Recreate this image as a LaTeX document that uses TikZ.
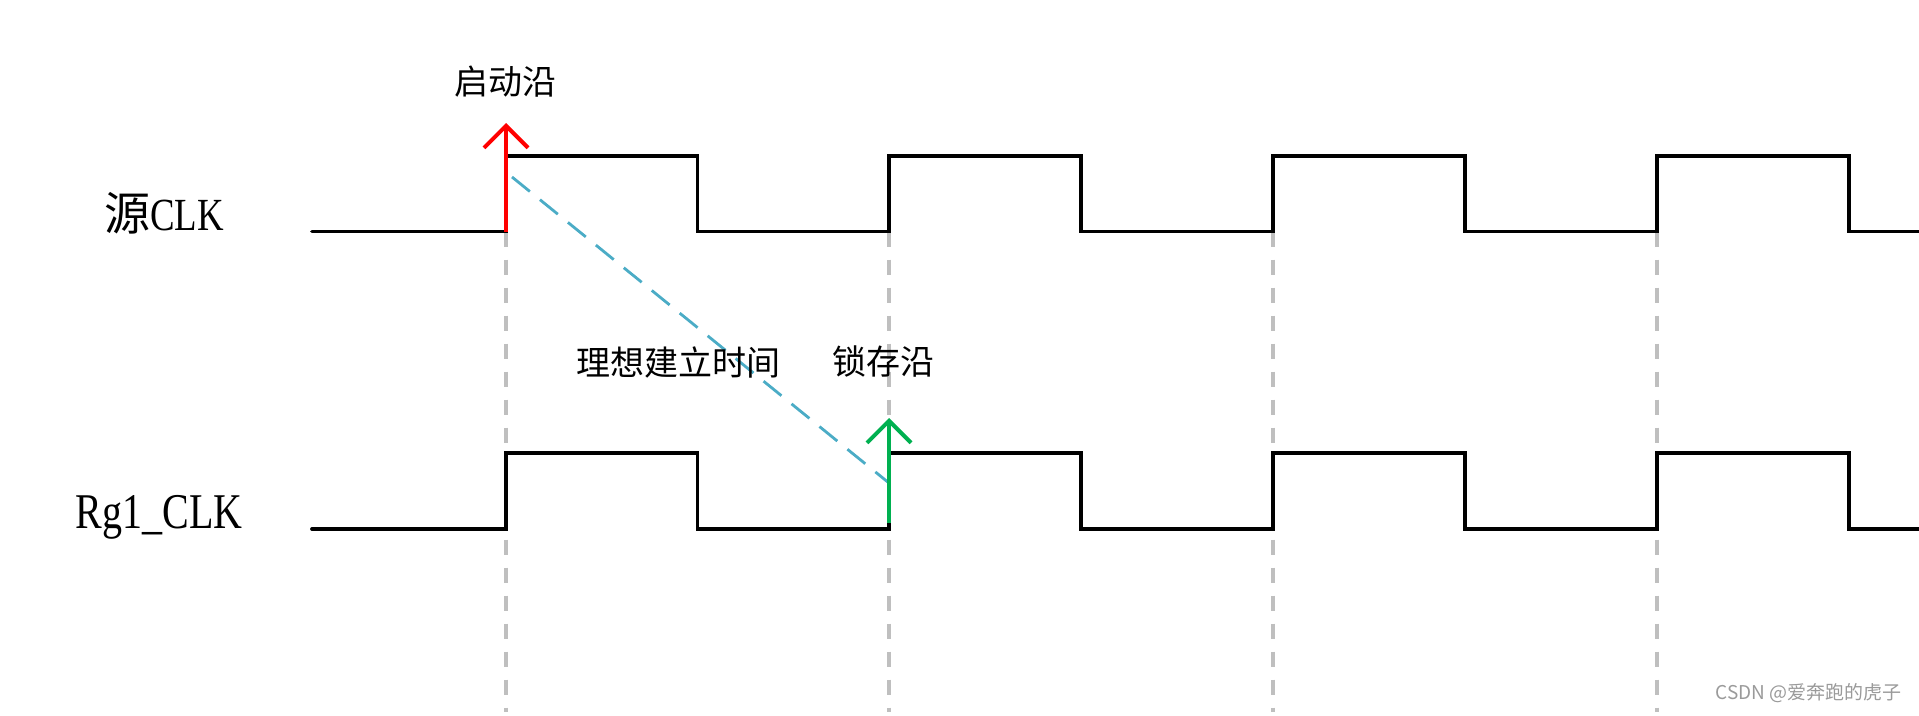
\documentclass[tikz,border=0pt]{standalone}
\usepackage{fontspec}
\setmainfont{Liberation Serif}
\newfontfamily\cjk{Noto Sans CJK SC}
\usetikzlibrary{arrows.meta}
\definecolor{edgered}{HTML}{FF0000}
\definecolor{edgegreen}{HTML}{00B050}
\definecolor{setupblue}{HTML}{4BACC6}
\definecolor{guidegray}{HTML}{BFBFBF}
\definecolor{markgray}{HTML}{9A9A9A}
\newcommand{\lat}[1]{\scalebox{0.8}[1]{#1}}
\tikzset{
  wave/.style={line width=3.8pt, black, line join=miter, line cap=round},
  guide/.style={line width=3.6pt, guidegray, dash pattern=on 15pt off 13pt},
  setup/.style={line width=2.8pt, setupblue, dash pattern=on 23pt off 13pt},
  edgearrow/.style={line width=4pt, -{Straight Barb[length=22pt,width=44pt,line width=4pt]}},
  siglabel/.style={font=\fontsize{46}{46}\selectfont, inner sep=0pt, anchor=center},
  cnlabel/.style={font=\cjk\fontsize{34}{34}\selectfont, inner sep=0pt, anchor=center},
}
\begin{document}
\begin{tikzpicture}[x=1pt,y=-1pt]
\useasboundingbox (0,0) rectangle (1919,715);
% guide lines
\foreach \xx in {506,889,1273,1657}{
  \draw[guide] (\xx,231.5) -- (\xx,712);
}
% source clock
\draw[wave] (312,231.5) -- (506,231.5) -- (506,156) -- (697.5,156) -- (697.5,231.5)
  -- (889,231.5) -- (889,156) -- (1081,156) -- (1081,231.5)
  -- (1273,231.5) -- (1273,156) -- (1465,156) -- (1465,231.5)
  -- (1657,231.5) -- (1657,156) -- (1849,156) -- (1849,231.5) -- (1919,231.5);
% Rg1 clock
\draw[wave] (312,529) -- (506,529) -- (506,453) -- (697.5,453) -- (697.5,529)
  -- (889,529) -- (889,453) -- (1081,453) -- (1081,529)
  -- (1273,529) -- (1273,453) -- (1465,453) -- (1465,529)
  -- (1657,529) -- (1657,453) -- (1849,453) -- (1849,529) -- (1919,529);
% coordinates
\coordinate (launchbase) at (506,231.5);
\coordinate (launchtip) at (506,123);
\coordinate (latchbase) at (889,523);
\coordinate (latchtip) at (889,418);
\coordinate (setupstart) at (512,177);
\coordinate (setupend) at (889,483);
% setup line
\draw[setup] (setupstart) -- (setupend);
% arrows
\draw[edgearrow, edgered] (launchbase) -- (launchtip);
\draw[edgearrow, edgegreen] (latchbase) -- (latchtip);
% labels
\node[siglabel] (srcclk) at (164,213) {{\cjk 源}\lat{CLK}};
\node[siglabel, font=\fontsize{50}{50}\selectfont] (rgclk) at (159,517) {\lat{Rg1\_CLK}};
\node[cnlabel] (launchlbl) at (505,82) {启动沿};
\node[cnlabel] (setuplbl) at (678,362) {理想建立时间};
\node[cnlabel] (latchlbl) at (883,362) {锁存沿};
\node[font=\cjk\fontsize{19}{19}\selectfont, text=markgray, inner sep=0pt, anchor=east] (mark) at (1902,693) {CSDN @爱奔跑的虎子};
\end{tikzpicture}
\end{document}
